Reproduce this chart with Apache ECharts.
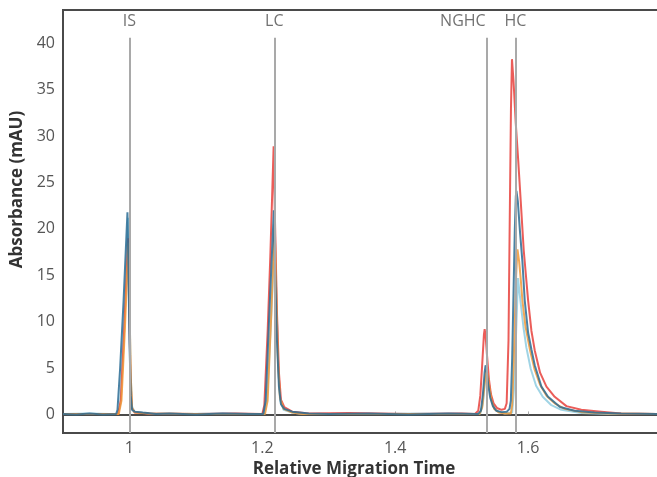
<!DOCTYPE html>
<html><head><meta charset="utf-8">
<script src="https://cdn.jsdelivr.net/npm/echarts@6/dist/echarts.min.js"></script>
<style>html,body{margin:0;padding:0;background:#fff}#c{width:657px;height:477px}</style>
</head><body><div id="c"></div>
<script>
// Tick labels
const xTicks = [1, 1.2, 1.4, 1.6];
const yTicks = [0, 5, 10, 15, 20, 25, 30, 35, 40];
// Peak markers (relative migration time)
const peakNames = ['IS', 'LC', 'NGHC', 'HC'];
const peakTimes = [1.0, 1.218, 1.5376, 1.581];

// Series values: [relative migration time, absorbance mAU]
const lightBlue = [
  [0.9,0.05],[0.94,0.1],[0.97,0.05],[0.982,0.05],[0.986,1],[0.992,10],[0.998,21.2],[1.0,12],[1.002,4],[1.004,0.8],[1.008,0.25],[1.03,0.1],
  [1.08,0.05],[1.14,0.1],[1.19,0.05],[1.203,0.05],[1.207,1.5],[1.213,10],[1.219,19.5],[1.221,13],[1.224,5],[1.227,1.5],[1.232,0.5],[1.245,0.2],[1.26,0.05],
  [1.35,0.05],[1.45,0.1],[1.52,0.05],[1.528,0.1],[1.532,1.2],[1.535,3.5],[1.5375,4.6],[1.539,4.2],[1.542,2.8],[1.545,1.6],[1.549,0.7],[1.555,0.3],[1.565,0.1],
  [1.576,0.2],[1.579,3],[1.582,9],[1.5848,14.7],[1.5865,13.5],[1.5884,12.3],[1.593,9.4],[1.5974,7.2],[1.604,4.9],[1.612,3.1],[1.622,1.9],[1.635,1.0],[1.65,0.5],[1.68,0.15],[1.72,0.05],[1.8,0.05]
];
const red = [
  [0.9,0.05],[0.95,0.05],[0.983,0.05],[0.987,1.5],[0.992,9],[0.998,19],[0.9995,12],[1.0015,4],[1.0035,0.7],[1.008,0.2],[1.03,0.1],
  [1.1,0.05],[1.16,0.1],[1.2,0.05],[1.203,1],[1.208,9],[1.212,17],[1.217,28.9],[1.219,21],[1.222,11],[1.225,4.5],[1.228,1.6],[1.233,0.8],[1.245,0.3],[1.27,0.1],
  [1.33,0.15],[1.42,0.05],[1.5,0.1],[1.52,0.05],[1.525,0.4],[1.528,2],[1.531,5.5],[1.5335,8.6],[1.5346,9.2],[1.536,8.5],[1.538,6.5],[1.541,3.8],[1.544,2.2],[1.548,1.2],[1.553,0.7],[1.56,0.5],[1.565,0.6],
  [1.5677,1.2],[1.5705,8],[1.5722,20],[1.5742,33],[1.5757,38.3],[1.578,36],[1.5814,31.4],[1.585,27.5],[1.5888,23.1],[1.5934,17.7],[1.6,12.3],[1.605,9],[1.61,6.9],[1.618,4.5],[1.6276,3.0],[1.64,1.9],[1.6577,0.9],[1.68,0.5],[1.71,0.3],[1.74,0.1],[1.8,0.05]
];
const orange = [
  [0.9,0.05],[0.95,0.05],[0.984,0.05],[0.988,1.5],[0.993,9],[0.9985,18.5],[1.0,12],[1.002,4],[1.004,0.7],[1.008,0.2],[1.03,0.1],
  [1.1,0.05],[1.15,0.05],[1.204,0.05],[1.208,1.5],[1.213,10],[1.2185,20.5],[1.2205,14],[1.2235,6],[1.2265,1.8],[1.232,0.6],[1.245,0.2],[1.26,0.05],
  [1.4,0.05],[1.527,0.05],[1.531,0.8],[1.534,3],[1.537,4.8],[1.539,4.3],[1.542,2.8],[1.545,1.5],[1.549,0.6],[1.556,0.2],[1.566,0.1],
  [1.574,0.1],[1.576,1],[1.578,5],[1.58,10],[1.582,15],[1.584,17.8],[1.5865,16.5],[1.589,14.5],[1.5914,12.3],[1.596,9.5],[1.603,6.9],[1.61,4.8],[1.618,3.2],[1.628,2.0],[1.64,1.2],[1.655,0.6],[1.68,0.25],[1.72,0.1],[1.8,0.05]
];
const darkBlue = [
  [0.9,0.05],[0.92,0.0],[0.94,0.1],[0.96,0.0],[0.98,0.05],[0.982,0.5],[0.986,5],[0.991,12],[0.997,21.8],[0.9985,16],[1.0,8],[1.002,2],[1.004,0.5],[1.008,0.3],[1.02,0.2],[1.04,0.05],
  [1.06,0.1],[1.1,0.0],[1.14,0.1],[1.18,0.05],[1.2015,0.05],[1.205,1.5],[1.21,10],[1.2173,22.0],[1.2195,15],[1.222,8],[1.225,3],[1.228,1.1],[1.233,0.6],[1.245,0.3],[1.27,0.1],
  [1.3,0.05],[1.36,0.1],[1.42,0.0],[1.48,0.1],[1.525,0.05],[1.529,0.4],[1.532,2.2],[1.5345,4.5],[1.536,5.3],[1.5375,4.8],[1.54,3.2],[1.543,1.8],[1.547,0.9],[1.552,0.4],[1.56,0.25],[1.568,0.3],
  [1.572,0.6],[1.574,1.5],[1.576,6],[1.578,13],[1.58,20],[1.5815,23.5],[1.5824,24.1],[1.5845,23],[1.588,19.5],[1.5914,16.5],[1.5949,12.3],[1.6,8.8],[1.605,7],[1.61,5.3],[1.62,3.0],[1.63,1.9],[1.648,0.8],[1.67,0.4],[1.7,0.2],[1.74,0.1],[1.8,0.05]
];

const FONT = 'Open Sans';
const chart = echarts.init(document.getElementById('c'), null, {renderer: 'canvas'});

function curve(name, data, color) {
  return {
    name, type: 'line', data, symbol: 'none', smooth: false,
    lineStyle: {color, width: 2, opacity: 0.85}, z: 3
  };
}

const markerLines = peakTimes.map(t => [{coord: [t, -2]}, {coord: [t, 40.6]}]);
const peakLabelData = peakNames.map((n, i) => {
  const item = {name: n, value: [peakTimes[i], 42.4]};
  if (n === 'NGHC') item.label = {align: 'right', offset: [-1, 0]};
  return item;
});

chart.setOption({
  animation: false,
  backgroundColor: '#fff',
  grid: {left: 63, top: 10, width: 598, height: 423, containLabel: false, outerBoundsMode: 'none',
    show: true, borderColor: '#4a4a4a', borderWidth: 2, backgroundColor: 'transparent'},
  xAxis: {
    type: 'value', min: 0.9, max: 1.8,
    name: 'Relative Migration Time', nameLocation: 'middle', nameGap: 21,
    nameTextStyle: {fontFamily: FONT, fontWeight: 'bold', fontSize: 17, color: '#333', padding: [0, 16, 0, 0]},
    axisLine: {show: true, lineStyle: {color: '#4a4a4a', width: 2}},
    axisTick: {show: true, inside: true, length: 3, customValues: xTicks, lineStyle: {color: '#aaa'}},
    axisLabel: {customValues: xTicks, formatter: v => String(v), fontFamily: FONT, fontSize: 16, color: '#555', margin: 7},
    splitLine: {show: false}
  },
  yAxis: {
    type: 'value', min: -2, max: 43.6,
    name: 'Absorbance (mAU)', nameLocation: 'middle', nameGap: 31,
    nameTextStyle: {fontFamily: FONT, fontWeight: 'bold', fontSize: 17, color: '#333', padding: [0, 0, 0, 64]},
    axisLine: {show: true, lineStyle: {color: '#4a4a4a', width: 2}},
    axisTick: {show: false},
    axisLabel: {customValues: yTicks, formatter: v => String(v), fontFamily: FONT, fontSize: 16, color: '#555', margin: 8},
    splitLine: {show: false}
  },
  series: [
    {
      type: 'line', data: [], silent: true, z: 1,
      markLine: {symbol: 'none', silent: true, label: {show: false},
        lineStyle: {color: '#a9a9a9', width: 2, type: 'solid'}, data: markerLines}
    },
    {
      type: 'scatter', data: peakLabelData, symbolSize: 0, silent: true, z: 5,
      label: {show: true, position: 'inside', formatter: p => p.name, fontFamily: FONT, fontSize: 16, color: '#4d4d4d'}
    },
    curve('lightBlue', lightBlue, '#8fcde0'),
    curve('red', red, '#e8413c'),
    curve('orange', orange, '#f0993a'),
    curve('darkBlue', darkBlue, '#2a6c94')
  ]
});
</script>
</body></html>
